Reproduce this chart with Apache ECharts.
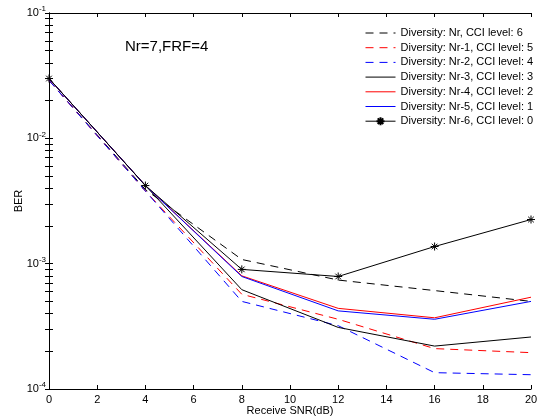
<!DOCTYPE html>
<html>
<head>
<meta charset="utf-8">
<script src="https://cdn.jsdelivr.net/npm/echarts@6/dist/echarts.min.js"></script>
<style>
  html, body { margin: 0; padding: 0; background: #fff; }
  #chart { width: 540px; height: 418px; }
</style>
</head>
<body>
<div id="chart"></div>
<script>
  // x values (Receive SNR in dB)
  const snr = [0, 4, 8, 12, 16, 20];

  // BER per diversity / CCI configuration
  const berNr   = [0.029, 0.0039, 0.00108, 0.00074, 0.00061, 0.0005];
  const berNr1  = [0.029, 0.0038, 0.00057, 0.00036, 0.00021, 0.000195];
  const berNr2  = [0.029, 0.0038, 0.0005,  0.00032, 0.000135, 0.00013];
  const berNr3  = [0.03,  0.0042, 0.00062, 0.00031, 0.00022, 0.00026];
  const berNr4  = [0.03,  0.0042, 0.0008,  0.00044, 0.00037, 0.00054];
  const berNr5  = [0.03,  0.0042, 0.00079, 0.00042, 0.00036, 0.0005];
  const berNr6  = [0.03,  0.0042, 0.0009,  0.00079, 0.00137, 0.00225];

  const seriesNames = [
    'Diversity: Nr, CCI level: 6',
    'Diversity: Nr-1, CCI level: 5',
    'Diversity: Nr-2, CCI level: 4',
    'Diversity: Nr-3, CCI level: 3',
    'Diversity: Nr-4, CCI level: 2',
    'Diversity: Nr-5, CCI level: 1',
    'Diversity: Nr-6, CCI level: 0'
  ];

  const xTicks = [0, 2, 4, 6, 8, 10, 12, 14, 16, 18, 20];
  const yMajor = [0.0001, 0.001, 0.01, 0.1];

  // log-spaced tick marks 1..9 x 10^k, MATLAB style
  const yTicks = [];
  [-4, -3, -2].forEach(k => {
    for (let m = 1; m <= 9; m++) yTicks.push(+(m * Math.pow(10, k)).toPrecision(3));
  });
  yTicks.push(0.1);

  const FONT = 'Liberation Sans';
  const dash = [8, 6];
  const star = 'path://M5,0L5,10M0,5L10,5M1.5,1.5L8.5,8.5M1.5,8.5L8.5,1.5';

  const pairs = (ys) => snr.map((x, i) => [x, ys[i]]);

  const mkLine = (name, ys, color, type, marker) => ({
    name: name,
    type: 'line',
    data: pairs(ys),
    symbol: marker ? star : 'none',
    symbolSize: 8,
    showSymbol: !!marker,
    itemStyle: { color: color, borderColor: color, borderWidth: 1 },
    lineStyle: { color: color, width: 1, type: type },
    animation: false,
    z: 3
  });

  const chart = echarts.init(document.getElementById('chart'));

  const expLabel = (v) => {
    const e = Math.round(Math.log10(v));
    return '{b|10}{s|' + e + '}';
  };

  // plain line samples in the legend, star only for the last one
  const legendData = seriesNames.map((n, i) => (
    i < 6 ? { name: n, itemStyle: { opacity: 0 } } : { name: n }
  ));

  const option = {
    backgroundColor: '#fff',
    animation: false,
    textStyle: { fontFamily: FONT },
    title: {
      text: 'Nr=7,FRF=4',
      left: 120,
      top: 34,
      textStyle: { fontFamily: FONT, fontSize: 15, fontWeight: 'normal', color: '#000' }
    },
    grid: { left: 49, right: 9, top: 13, bottom: 29, outerBoundsMode: 'none', containLabel: false },
    legend: {
      orient: 'vertical',
      left: 360,
      top: 22,
      itemWidth: 30,
      itemHeight: 10,
      itemGap: 2.7,
      lineStyle: { width: 1 },
      textStyle: { fontFamily: FONT, fontSize: 11, lineHeight: 12, color: '#000' },
      data: legendData
    },
    xAxis: [
      {
        type: 'value',
        min: 0, max: 20, interval: 2,
        name: 'Receive SNR(dB)',
        nameLocation: 'middle',
        nameGap: 16,
        nameMoveOverlap: false,
        nameTextStyle: { fontFamily: FONT, fontSize: 11, color: '#000' },
        axisLine: { lineStyle: { color: '#000', width: 1 } },
        axisTick: { inside: true, length: 4, lineStyle: { color: '#000' } },
        axisLabel: { color: '#000', fontSize: 11, fontFamily: FONT, margin: 5, customValues: xTicks },
        splitLine: { show: false }
      },
      {
        type: 'value',
        position: 'top',
        min: 0, max: 20, interval: 2,
        axisLine: { lineStyle: { color: '#000', width: 1 } },
        axisTick: { inside: true, length: 4, lineStyle: { color: '#000' } },
        axisLabel: { show: false },
        splitLine: { show: false }
      }
    ],
    yAxis: [
      {
        type: 'log',
        logBase: 10,
        min: 0.0001, max: 0.1,
        name: 'BER',
        nameLocation: 'middle',
        nameGap: 25,
        nameMoveOverlap: false,
        nameRotate: 90,
        nameTextStyle: { fontFamily: FONT, fontSize: 11, color: '#000' },
        axisLine: { show: true, lineStyle: { color: '#000', width: 1 } },
        axisTick: { show: true, inside: true, length: 4, lineStyle: { color: '#000' }, customValues: yTicks },
        axisLabel: {
          color: '#000',
          margin: 3,
          customValues: yMajor,
          formatter: expLabel,
          rich: {
            b: { fontFamily: FONT, fontSize: 11, color: '#000' },
            s: { fontFamily: FONT, fontSize: 8, color: '#000', verticalAlign: 'top', padding: [0, 0, 8, 0] }
          }
        },
        splitLine: { show: false }
      },
      {
        type: 'log',
        logBase: 10,
        min: 0.0001, max: 0.1,
        position: 'right',
        axisLine: { show: true, lineStyle: { color: '#000', width: 1 } },
        axisTick: { show: true, inside: true, length: 4, lineStyle: { color: '#000' }, customValues: yTicks },
        axisLabel: { show: false },
        splitLine: { show: false }
      }
    ],
    series: [
      mkLine(seriesNames[0], berNr,  '#000000', dash, false),
      mkLine(seriesNames[1], berNr1, '#ff0000', dash, false),
      mkLine(seriesNames[2], berNr2, '#0000ff', dash, false),
      mkLine(seriesNames[3], berNr3, '#000000', 'solid', false),
      mkLine(seriesNames[4], berNr4, '#ff0000', 'solid', false),
      mkLine(seriesNames[5], berNr5, '#0000ff', 'solid', false),
      mkLine(seriesNames[6], berNr6, '#000000', 'solid', true)
    ]
  };

  chart.setOption(option);
</script>
</body>
</html>
